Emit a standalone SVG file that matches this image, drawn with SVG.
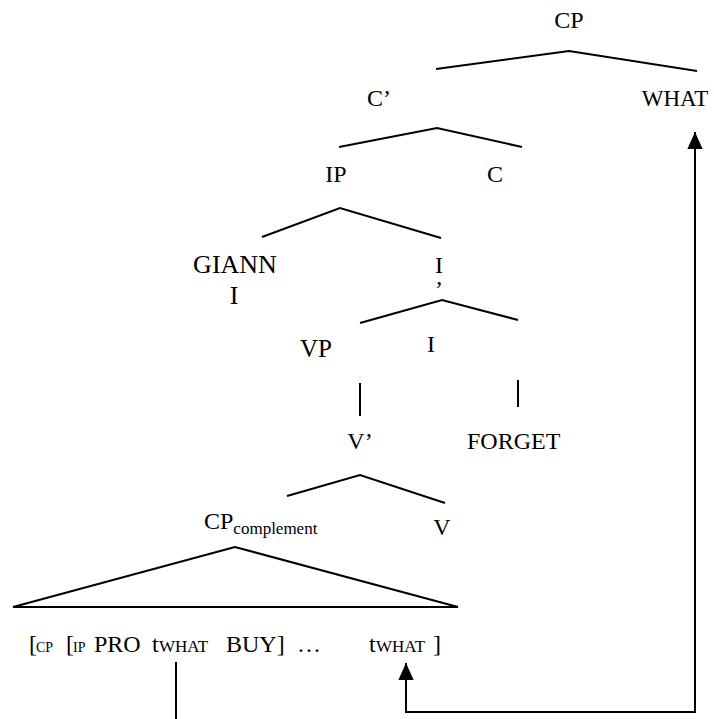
<svg xmlns="http://www.w3.org/2000/svg" width="714" height="719" viewBox="0 0 714 719" font-family="Liberation Serif, Times New Roman, serif" font-size="24">
<defs>
<style>
.s{font-size:17px}
.xs{font-size:14px}
line,polyline,polygon{stroke:#000;stroke-width:2;fill:none}
</style>
<marker id="ah" viewBox="0 0 10 10" refX="10" refY="5" markerWidth="17" markerHeight="17" markerUnits="userSpaceOnUse" orient="auto-start-reverse"><path d="M0,0.5 L10,5 L0,9.5 z" fill="#000" stroke="none"/></marker>
</defs>
<rect width="714" height="719" fill="#fff"/>
<g id="n-cp"><text x="569" y="28" text-anchor="middle">CP</text></g>
<g id="n-cbar"><text x="379" y="106" text-anchor="middle">C’</text></g>
<g id="n-what"><text x="675" y="106" text-anchor="middle" font-size="23">WHAT</text></g>
<g id="n-ip"><text x="336" y="182" text-anchor="middle">IP</text></g>
<g id="n-c"><text x="495" y="182" text-anchor="middle">C</text></g>
<g id="n-gianni" font-size="26"><text x="235" y="273" text-anchor="middle">GIANN</text><text x="234" y="304" text-anchor="middle">I</text></g>
<g id="n-ibar"><text x="439" y="273" text-anchor="middle">I</text><text x="439" y="297" text-anchor="middle">’</text></g>
<g id="n-vp"><text x="316" y="357" text-anchor="middle" font-size="25">VP</text></g>
<g id="n-i"><text x="431" y="352" text-anchor="middle">I</text></g>
<g id="n-vbar"><text x="360" y="449" text-anchor="middle">V’</text></g>
<g id="n-forget"><text x="467" y="449">FORGET</text></g>
<g id="n-cpc"><text x="204" y="529">CP<tspan class="s" dy="5">complement</tspan></text></g>
<g id="n-v"><text x="442" y="535" text-anchor="middle">V</text></g>
<g id="n-string">
<text y="652"><tspan x="29">[</tspan><tspan class="xs" x="36">CP</tspan><tspan x="66">[</tspan><tspan class="xs" x="73">IP</tspan><tspan x="94">PRO</tspan><tspan x="152">t</tspan><tspan class="s" x="159">WHAT</tspan><tspan x="226">BUY]</tspan><tspan x="297">…</tspan><tspan x="369">t</tspan><tspan class="s" x="376">WHAT</tspan><tspan x="433">]</tspan></text>
</g>
<g id="connectors">
<polyline points="436,69 569,51 697,71"/>
<polyline points="339,147 437,128 522,147"/>
<polyline points="262,237 340,208 441,238"/>
<polyline points="360,323 442,300 518,320"/>
<line x1="360" y1="383" x2="360" y2="416"/>
<line x1="518" y1="380" x2="518" y2="407"/>
<polyline points="287,496 360,475 445,503"/>
<polygon points="235,547 13,607 458,607"/>
<line x1="176" y1="662" x2="176" y2="719"/>
<polyline points="406,663 406,712 695,712 695,132" marker-start="url(#ah)" marker-end="url(#ah)"/>
</g>
</svg>
